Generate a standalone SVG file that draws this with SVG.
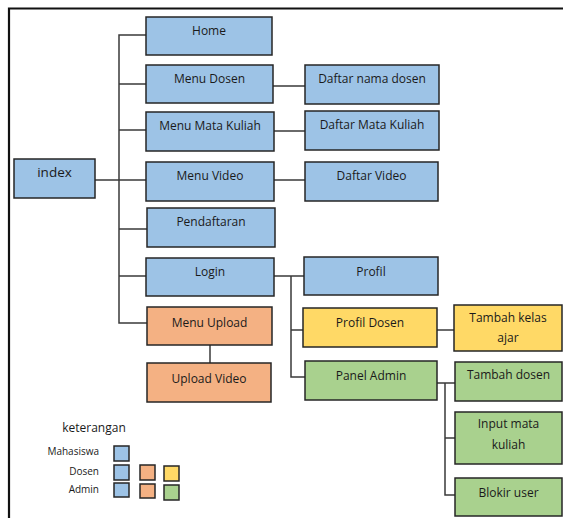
<svg xmlns="http://www.w3.org/2000/svg" width="563" height="518" viewBox="0 0 563 518">
<style>
.n{stroke:#262626;stroke-width:1.5}
.b{fill:#9DC3E6}.o{fill:#F4B183}.y{fill:#FFD966}.g{fill:#A9D18E}
text{font-family:"Open Sans","Liberation Sans",sans-serif;font-size:12px;fill:#1a1a1a;text-anchor:middle}
.lg{font-size:10px;text-anchor:end}
#conn path{fill:none;stroke:#3a3a3a;stroke-width:1.5}
</style>
<rect width="563" height="518" fill="#fff"/>
<path d="M9 518V8.5H563" fill="none" stroke="#111" stroke-width="2.2"/>
<g id="conn">
<path d="M146 35H119V323H147M119 84H146M119 130H146M95 180H146M119 229H147M119 276H146"/>
<path d="M273 86H305M274 131H305M274 180H305"/>
<path d="M210 345V363"/>
<path d="M274 276H305M291 276V377H305M291 330H303"/>
<path d="M437 330H454"/>
<path d="M437 383H455M445 383V495H455M445 438H455"/>
</g>
<g id="index"><rect class="n b" x="14" y="159" width="81" height="39"/><text x="54.5" y="177" style="font-size:13.5px">index</text></g>
<g id="home"><rect class="n b" x="146" y="17" width="126" height="38"/><text x="209" y="35">Home</text></g>
<g id="menu-dosen"><rect class="n b" x="146" y="65" width="127" height="38"/><text x="209.5" y="83">Menu Dosen</text></g>
<g id="menu-mk"><rect class="n b" x="146" y="112" width="128" height="39"/><text x="210" y="130">Menu Mata Kuliah</text></g>
<g id="menu-video"><rect class="n b" x="146" y="162" width="128" height="39"/><text x="210" y="180">Menu Video</text></g>
<g id="pendaftaran"><rect class="n b" x="147" y="208" width="128" height="39"/><text x="211" y="226">Pendaftaran</text></g>
<g id="login"><rect class="n b" x="146" y="258" width="128" height="38"/><text x="210" y="276">Login</text></g>
<g id="menu-upload"><rect class="n o" x="147" y="307" width="125" height="38"/><text x="209.5" y="327">Menu Upload</text></g>
<g id="upload-video"><rect class="n o" x="147" y="363" width="124" height="39"/><text x="209" y="383">Upload Video</text></g>
<g id="daftar-dosen"><rect class="n b" x="305" y="65" width="134" height="39"/><text x="372" y="83">Daftar nama dosen</text></g>
<g id="daftar-mk"><rect class="n b" x="305" y="111" width="134" height="39"/><text x="372" y="129">Daftar Mata Kuliah</text></g>
<g id="daftar-video"><rect class="n b" x="305" y="162" width="133" height="39"/><text x="371.5" y="180">Daftar Video</text></g>
<g id="profil"><rect class="n b" x="304" y="257" width="134" height="38"/><text x="371" y="276">Profil</text></g>
<g id="profil-dosen"><rect class="n y" x="303" y="308" width="134" height="39"/><text x="370" y="327">Profil Dosen</text></g>
<g id="tambah-kelas"><rect class="n y" x="454" y="305" width="108" height="46"/><text x="508" y="322">Tambah kelas</text><text x="508" y="342">ajar</text></g>
<g id="panel-admin"><rect class="n g" x="305" y="361" width="132" height="39"/><text x="371" y="380">Panel Admin</text></g>
<g id="tambah-dosen"><rect class="n g" x="455" y="362" width="107" height="39"/><text x="508.5" y="379">Tambah dosen</text></g>
<g id="input-mk"><rect class="n g" x="455" y="412" width="107" height="52"/><text x="508.5" y="428">Input mata</text><text x="508.5" y="449">kuliah</text></g>
<g id="blokir"><rect class="n g" x="455" y="478" width="107" height="38"/><text x="508.5" y="497">Blokir user</text></g>
<g id="legend">
<text x="94" y="432">keterangan</text>
<text class="lg" x="99" y="455">Mahasiswa</text>
<text class="lg" x="99" y="475">Dosen</text>
<text class="lg" x="99" y="493">Admin</text>
<rect class="n b" x="114" y="446" width="15" height="15"/>
<rect class="n b" x="114" y="465" width="15" height="15"/>
<rect class="n o" x="140" y="465" width="15" height="15"/>
<rect class="n y" x="164" y="466" width="15" height="15"/>
<rect class="n b" x="114" y="483" width="15" height="14"/>
<rect class="n o" x="140" y="484" width="15" height="14"/>
<rect class="n g" x="164" y="485" width="15" height="15"/>
</g>
</svg>
